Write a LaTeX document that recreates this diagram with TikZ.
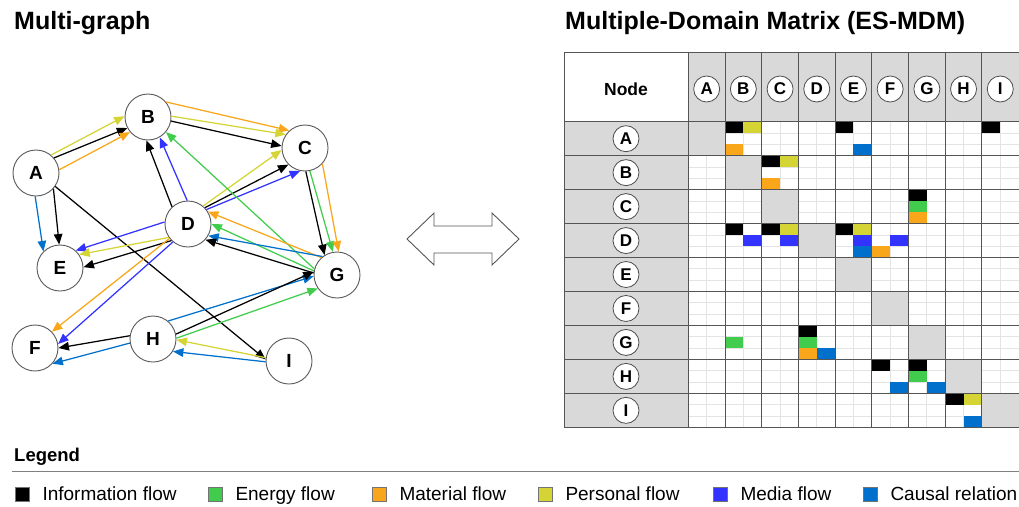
\documentclass[tikz,border=0pt]{standalone}
\usepackage{fontspec}
\setmainfont{Liberation Sans}
\usetikzlibrary{arrows.meta,positioning}

\definecolor{cinfo}{RGB}{0,0,0}
\definecolor{cenergy}{RGB}{65,204,77}
\definecolor{cmaterial}{RGB}{250,166,26}
\definecolor{cpersonal}{RGB}{212,212,52}
\definecolor{cmedia}{RGB}{51,51,255}
\definecolor{ccausal}{RGB}{0,112,204}
\definecolor{cshade}{RGB}{217,217,217}
\definecolor{cgrid}{RGB}{228,228,228}
\definecolor{cline}{RGB}{85,85,85}

\def\mx{688.3}
\def\my{121.7}
\def\cw{36.7}
\def\rh{33.96}

\begin{document}
\begin{tikzpicture}[
  x=1pt, y=-1pt,
  gnode/.style={circle, draw=black!65, line width=0.9pt, fill=white, minimum size=46pt,
                inner sep=0pt, font=\fontsize{19}{19}\selectfont\bfseries},
  mnode/.style={circle, draw=black!70, line width=0.8pt, fill=white, minimum size=26pt,
                inner sep=0pt, font=\fontsize{17}{17}\selectfont\bfseries},
  flow/.style={-{Triangle[length=10.5pt,width=8.5pt]}, line width=1.25pt},
  legbox/.style={draw=black!55, line width=0.6pt, minimum size=14pt, inner sep=0pt},
  legtext/.style={inner sep=0pt, text height=13.6pt, text depth=0pt, font=\fontsize{19}{19}\selectfont},
  title/.style={anchor=base west, inner sep=0pt, font=\fontsize{25}{25}\selectfont\bfseries}
]
\useasboundingbox (0,0) rectangle (1019,506);

\node[title] (gtitle) at (14,29) {Multi-graph};
\node[title] (mtitle) at (565,29) {Multiple-Domain Matrix (ES-MDM)};

% multi-graph
\node[gnode] (A) at (36,173) {A};
\node[gnode] (B) at (148,117) {B};
\node[gnode] (C) at (305,148) {C};
\node[gnode] (D) at (188,224) {D};
\node[gnode] (E) at (60,268) {E};
\node[gnode] (F) at (35,348) {F};
\node[gnode] (G) at (337,275) {G};
\node[gnode] (H) at (153,339) {H};
\node[gnode] (I) at (289,361) {I};

\draw[flow, cpersonal] (A.50) -- (B.178);
\draw[flow, cinfo] (A.40) -- (B.208);
\draw[flow, cmaterial] (A.8) -- (B.220);
\draw[flow, ccausal] (A.268) -- (E.135);
\draw[flow, cinfo] (A.318) -- (E.92);
\draw[flow, cinfo] (A.325) -- (I.176);
\draw[flow, cmaterial] (B.40) -- (C.132);
\draw[flow, cpersonal] (B.2) -- (C.145);
\draw[flow, cinfo] (B.350) -- (C.175);
\draw[flow, cinfo] (D.133) -- (B.266);
\draw[flow, cmedia] (D.92) -- (B.300);
\draw[flow, cpersonal] (D.50) -- (C.185);
\draw[flow, cinfo] (D.44) -- (C.225);
\draw[flow, cmedia] (D.38) -- (C.258);
\draw[flow, cmedia] (D.175) -- (E.48);
\draw[flow, cpersonal] (D.215) -- (E.35);
\draw[flow, cinfo] (D.225) -- (E.2);
\draw[flow, cmaterial] (D.218) -- (F.44);
\draw[flow, cmedia] (D.230) -- (F.10);
\draw[flow, cinfo] (C.272) -- (G.122);
\draw[flow, cenergy] (C.282) -- (G.100);
\draw[flow, cmaterial] (C.318) -- (G.86);
\draw[flow, cenergy] (G.165) -- (B.320);
\draw[flow, cmaterial] (G.132) -- (D.32);
\draw[flow, cenergy] (G.170) -- (D.0);
\draw[flow, ccausal] (G.128) -- (D.330);
\draw[flow, cinfo] (G.175) -- (D.318);
\draw[flow, cinfo] (H.172) -- (F.0);
\draw[flow, ccausal] (H.190) -- (F.318);
\draw[flow, ccausal] (H.50) -- (G.183);
\draw[flow, cinfo] (H.12) -- (G.172);
\draw[flow, cenergy] (H.2) -- (G.215);
\draw[flow, cpersonal] (I.172) -- (H.358);
\draw[flow, ccausal] (I.182) -- (H.328);

% double arrow
\draw[cline, line width=0.9pt, line join=miter]
  (407,239) -- (434,213) -- (434,226) -- (492,226) -- (492,213) -- (519,239)
  -- (492,265) -- (492,253) -- (434,253) -- (434,265) -- cycle;

% matrix
\fill[cshade] (\mx,52) rectangle (1019,\my);
\fill[cshade] (564,\my) rectangle (\mx,427.3);
\foreach \k in {1,3,...,17}
  \draw[cgrid, line width=0.8pt] ({\mx+\k*\cw/2},\my) -- ({\mx+\k*\cw/2},427.3);
\foreach \r in {0,...,8}
  \foreach \s in {1,2}
    \draw[cgrid, line width=0.8pt] (\mx,{\my+\r*\rh+\s*\rh/3}) -- (1019,{\my+\r*\rh+\s*\rh/3});
\foreach \k in {1,...,9}
  \fill[cshade] ({\mx+(\k-1)*\cw},{\my+(\k-1)*\rh}) rectangle ++(\cw,\rh);
\foreach \r/\c/\sx/\sy/\clr in {
    1/2/0/0/cinfo, 1/2/1/0/cpersonal, 1/2/0/2/cmaterial,
    1/5/0/0/cinfo, 1/5/1/2/ccausal, 1/9/0/0/cinfo,
    2/3/0/0/cinfo, 2/3/1/0/cpersonal, 2/3/0/2/cmaterial,
    3/7/0/0/cinfo, 3/7/0/1/cenergy, 3/7/0/2/cmaterial,
    4/2/0/0/cinfo, 4/2/1/1/cmedia,
    4/3/0/0/cinfo, 4/3/1/0/cpersonal, 4/3/1/1/cmedia,
    4/5/0/0/cinfo, 4/5/1/0/cpersonal, 4/5/1/1/cmedia, 4/5/1/2/ccausal,
    4/6/0/2/cmaterial, 4/6/1/1/cmedia,
    7/2/0/1/cenergy,
    7/4/0/0/cinfo, 7/4/0/1/cenergy, 7/4/0/2/cmaterial, 7/4/1/2/ccausal,
    8/6/0/0/cinfo, 8/6/1/2/ccausal,
    8/7/0/0/cinfo, 8/7/0/1/cenergy, 8/7/1/2/ccausal,
    9/8/0/0/cinfo, 9/8/1/0/cpersonal, 9/8/1/2/ccausal}
  \fill[\clr] ({\mx+(\c-1)*\cw+\sx*\cw/2},{\my+(\r-1)*\rh+\sy*\rh/3}) rectangle ++({\cw/2},{\rh/3});
\foreach \k in {0,...,8}
  \draw[cline, line width=0.9pt] ({\mx+\k*\cw},52) -- ({\mx+\k*\cw},427.3);
\foreach \k in {0,...,9}
  \draw[cline, line width=0.9pt] (564,{\my+\k*\rh}) -- (1019,{\my+\k*\rh});
\draw[cline, line width=0.9pt] (1019,52) -- (564,52) -- (564,427.3);

\node[font=\fontsize{17.5}{17.5}\selectfont\bfseries] (nodehead) at (626,89) {Node};
\foreach \l [count=\i] in {A,B,C,D,E,F,G,H,I} {
  \node[mnode] (h\l) at ({\mx+(\i-0.5)*\cw},89) {\l};
  \node[mnode] (r\l) at (626,{\my+(\i-0.5)*\rh}) {\l};
}

% legend
\node[anchor=base west, inner sep=0pt, font=\fontsize{18.5}{18.5}\selectfont\bfseries] (legtitle) at (14,461) {Legend};
\draw[black!50, line width=1pt] (12,471.5) -- (1019,471.5);
\node[legbox, fill=cinfo] (k1) at (22,494) {};
\node[legtext, right=13pt of k1] (t1) {Information flow};
\node[legbox, fill=cenergy] (k2) at (215,494) {};
\node[legtext, right=13pt of k2] (t2) {Energy flow};
\node[legbox, fill=cmaterial] (k3) at (379,494) {};
\node[legtext, right=13pt of k3] (t3) {Material flow};
\node[legbox, fill=cpersonal] (k4) at (545,494) {};
\node[legtext, right=13pt of k4] (t4) {Personal flow};
\node[legbox, fill=cmedia] (k5) at (720,494) {};
\node[legtext, right=13pt of k5] (t5) {Media flow};
\node[legbox, fill=ccausal] (k6) at (870,494) {};
\node[legtext, right=13pt of k6] (t6) {Causal relation};
\end{tikzpicture}
\end{document}
